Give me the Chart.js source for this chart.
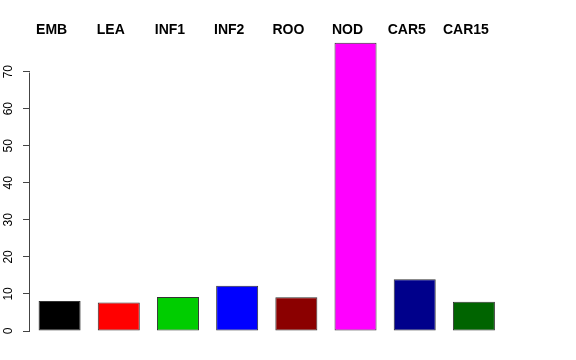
<!DOCTYPE html>
<html>
<head>
<meta charset="utf-8">
<script src="https://cdn.jsdelivr.net/npm/chart.js@4/dist/chart.umd.min.js"></script>
<style>
  html, body { margin: 0; padding: 0; background: #fff; }
  #wrap { width: 576px; height: 360px; }
</style>
</head>
<body>
<div id="wrap"><canvas id="chart" width="576" height="360"></canvas></div>
<script>
const FONT = "'Liberation Sans', Arial, Helvetica, sans-serif";

// datos
const categorias = ['EMB', 'LEA', 'INF1', 'INF2', 'ROO', 'NOD', 'CAR5', 'CAR15'];
const valores = [8.1, 7.7, 9.2, 12.2, 9.1, 77.8, 14.0, 7.9];
const colores = ['#000000', '#FF0000', '#00CD00', '#0000FF', '#8B0000', '#FF00FF', '#00008B', '#006400'];
const yTicks = [0, 10, 20, 30, 40, 50, 60, 70];

// linea del eje Y solo entre el primer y el ultimo tick (estilo R)
const ejeY = {
  id: 'ejeY',
  afterDraw(chart) {
    const y = chart.scales.y;
    const ctx = chart.ctx;
    const x = chart.chartArea.left - 0.5;
    ctx.save();
    ctx.strokeStyle = '#444';
    ctx.lineWidth = 1;
    ctx.beginPath();
    ctx.moveTo(x, Math.round(y.getPixelForValue(yTicks[0])) + 0.5);
    ctx.lineTo(x, Math.round(y.getPixelForValue(yTicks[yTicks.length - 1])) + 0.5);
    ctx.stroke();
    ctx.restore();
  }
};

new Chart(document.getElementById('chart'), {
  type: 'bar',
  data: {
    labels: categorias,
    datasets: [{
      data: valores,
      backgroundColor: colores,
      borderColor: '#333',
      borderWidth: 1,
      borderSkipped: false,
      categoryPercentage: 1,
      barPercentage: 0.71
    }]
  },
  options: {
    responsive: false,
    animation: false,
    layout: { padding: { left: 0, right: 72.5, top: 0, bottom: 29 } },
    plugins: { legend: { display: false }, tooltip: { enabled: false } },
    scales: {
      x: {
        position: 'top',
        grid: { display: false },
        border: { display: false },
        afterFit: s => { s.height = 42; },
        ticks: {
          color: '#000',
          font: { family: FONT, size: 14, weight: 'bold' },
          padding: -5,
          labelOffset: -8,
          maxRotation: 0,
          autoSkip: false
        }
      },
      y: {
        min: 0,
        max: 78,
        afterFit: s => { s.width = 30; },
        afterBuildTicks: s => { s.ticks = yTicks.map(v => ({ value: v })); },
        grid: { drawOnChartArea: false, drawTicks: true, tickLength: 7, color: '#444' },
        border: { display: false },
        ticks: {
          color: '#000',
          font: { family: FONT, size: 12 },
          minRotation: 90,
          maxRotation: 90,
          crossAlign: 'center',
          padding: 8
        }
      }
    }
  },
  plugins: [ejeY]
});
</script>
</body>
</html>
